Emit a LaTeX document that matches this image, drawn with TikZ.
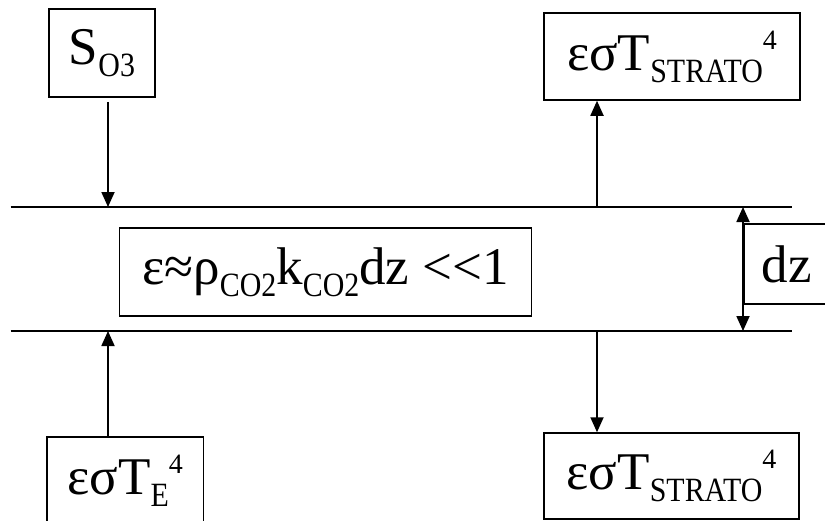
\documentclass[tikz,border=0pt]{standalone}
\usepackage{fontspec}
\setmainfont{Liberation Serif}
\usetikzlibrary{arrows.meta}
\newcommand\lsub[1]{\raisebox{-12pt}{\fontsize{34}{34}\selectfont\scalebox{0.88}[1]{#1}}}
\newcommand\lsup[1]{\raisebox{21pt}{\fontsize{28}{28}\selectfont #1}}
\begin{document}
\begin{tikzpicture}[x=1pt,y=-1pt,
  box/.style={draw,line width=1.5pt,inner sep=0pt,font=\fontsize{53}{53}\selectfont},
  lyr/.style={line width=2.2pt},
  arr/.style={line width=1.8pt,-{Triangle[length=15pt,width=13pt]}},
  dbl/.style={line width=1.8pt,{Triangle[length=15pt,width=13pt]}-{Triangle[length=15pt,width=13pt]}}]
\useasboundingbox (0,0) rectangle (825,520);
\clip (0,0) rectangle (825,520);
% layer boundaries
\coordinate (tl) at (10.5,207);
\coordinate (tr) at (792,207);
\coordinate (bl) at (10.5,331);
\coordinate (br) at (792,331);
\draw[lyr] (tl) -- (tr);
\draw[lyr] (bl) -- (br);
% boxes
\node[box,minimum width=106pt,minimum height=88pt] (so3) at (102,53) {S\lsub{O3}};
\node[box,minimum width=256pt,minimum height=87pt] (str1) at (672,56.5) {εσT\lsub{STRATO}\lsup{4}};
\node[box,minimum width=412pt,minimum height=88pt] (eq) at (325.5,272) {ε≈ρ\lsub{CO2}k\lsub{CO2}dz <{}<1};
\node[box,minimum width=86pt,minimum height=80pt] (dz) at (787,264) {dz};
\node[box,minimum width=156.5pt,minimum height=88pt] (te) at (125.25,481) {εσT\lsub{E}\lsup{4}};
\node[box,minimum width=255pt,minimum height=86pt] (str2) at (671.5,476) {εσT\lsub{STRATO}\lsup{4}};
% thickness marker
\coordinate (dzt) at (743,207);
\coordinate (dzb) at (743,331);
\draw[dbl] (dzt) -- (dzb);
% fluxes
\draw[arr] ([xshift=6pt,yshift=-4pt]so3.south) -- ([xshift=6pt]so3.south |- tl);
\draw[arr] ([xshift=-75pt]str1.south |- tl) -- ([xshift=-75pt]str1.south);
\draw[arr] ([xshift=-17.25pt]te.north) -- ([xshift=-17.25pt]te.north |- bl);
\draw[arr] ([xshift=-74.5pt]str2.north |- bl) -- ([xshift=-74.5pt]str2.north);
\end{tikzpicture}
\end{document}
